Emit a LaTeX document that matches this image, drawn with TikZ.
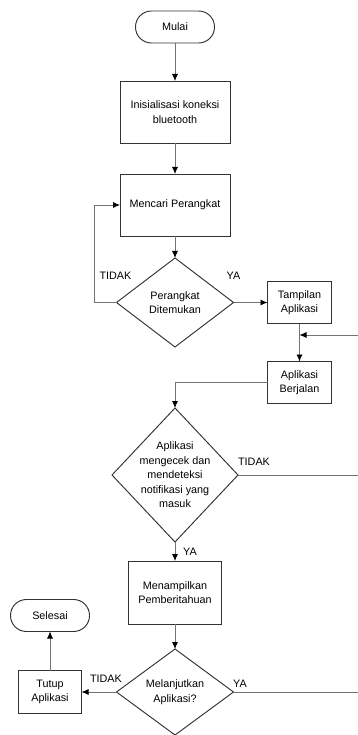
\documentclass[tikz,border=0pt]{standalone}
\usepackage{fontspec}
\setmainfont{Liberation Sans}
\usetikzlibrary{positioning,arrows.meta,shapes.geometric}

\tikzset{
  box/.style={draw=black!80, line width=0.95pt, rectangle, outer sep=0pt, inner sep=2pt, align=center},
  terminal/.style={box, rounded corners=15.9pt, minimum width=79pt, minimum height=32pt},
  decision/.style={draw=black!80, line width=0.95pt, diamond, outer sep=0pt, inner sep=0pt},
  flow/.style={draw=black!55, line width=0.8pt, -{Latex[length=7pt,width=6pt,color=black]}},
  wire/.style={draw=black!55, line width=0.8pt},
  lbl/.style={inner sep=0pt}
}

\begin{document}
\begin{tikzpicture}[font=\fontsize{10.8}{14.5}\selectfont]
  \useasboundingbox (0,0) rectangle (358pt,-735pt);
  \coordinate (rhs) at (358pt,0);

  \node[terminal] (mulai) at (175pt,-27pt) {Mulai};
  \node[box, minimum width=110pt, minimum height=62pt, below=38pt of mulai]
    (init) {Inisialisasi koneksi\\bluetooth};
  \node[box, minimum width=110pt, minimum height=62pt, below=31pt of init]
    (cari) {Mencari Perangkat};
  \node[decision, minimum width=117pt, minimum height=89pt, below=22pt of cari,
    label={[align=center]center:{Perangkat\\Ditemukan}}] (ketemu) {};
  \node[box, minimum width=64pt, minimum height=42pt, right=34pt of ketemu]
    (tampil) {Tampilan\\Aplikasi};
  \node[box, minimum width=64pt, minimum height=42pt, below=38pt of tampil]
    (jalan) {Aplikasi\\Berjalan};
  \node[decision, minimum width=126pt, minimum height=134pt, below=61pt of ketemu,
    label={[align=center]center:{Aplikasi\\mengecek dan\\mendeteksi\\notifikasi yang\\masuk}}]
    (cek) {};
  \node[box, minimum width=93pt, minimum height=63pt, below=19pt of cek]
    (notif) {Menampilkan\\Pemberitahuan};
  \node[decision, minimum width=117pt, minimum height=86pt, below=25pt of notif,
    label={[align=center]center:{Melanjutkan\\Aplikasi?}}] (lanjut) {};
  \node[box, minimum width=63pt, minimum height=43pt, left=35pt of lanjut]
    (tutup) {Tutup\\Aplikasi};
  \node[terminal, above=39pt of tutup] (selesai) {Selesai};

  % alur utama
  \draw[flow] (mulai) -- (init);
  \draw[flow] (init) -- (cari);
  \draw[flow] (cari) -- (ketemu);
  \draw[flow] (ketemu.west) -- ++(-22pt,0) |- (cari.west);
  \draw[flow] (ketemu.east) -- (tampil.west);
  \draw[flow] (tampil) -- (jalan);
  \coordinate (balik) at (358pt,-335pt);
  \draw[flow] (balik) -- (tampil.south |- balik);
  \draw[flow] (jalan.west) -| (cek.north);
  \draw[wire] (cek.east) -- (cek.east -| rhs);
  \draw[flow] (cek.south) -- (notif.north);
  \draw[flow] (notif) -- (lanjut);
  \draw[wire] (lanjut.east) -- (lanjut.east -| rhs);
  \draw[flow] (lanjut.west) -- (tutup.east);
  \draw[flow] (tutup) -- (selesai);

  % label cabang
  \node[lbl] at ([shift={(-1pt,27pt)}]ketemu.west) {TIDAK};
  \node[lbl] at ([shift={(0pt,27pt)}]ketemu.east) {YA};
  \node[lbl] at ([shift={(16pt,13pt)}]cek.east) {TIDAK};
  \node[lbl] at ([shift={(15pt,-9.5pt)}]cek.south) {YA};
  \node[lbl] at ([shift={(-10.5pt,13pt)}]lanjut.west) {TIDAK};
  \node[lbl] at ([shift={(6.5pt,8pt)}]lanjut.east) {YA};
\end{tikzpicture}
\end{document}
